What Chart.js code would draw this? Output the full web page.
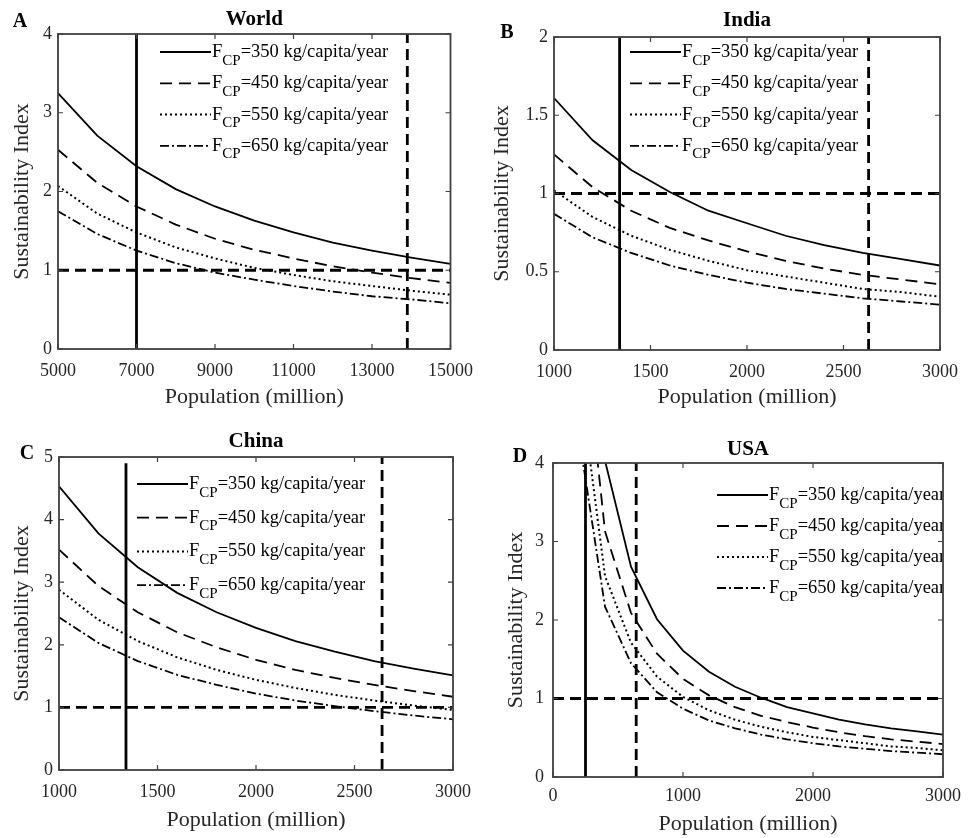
<!DOCTYPE html>
<html>
<head>
<meta charset="utf-8">
<script src="https://cdn.jsdelivr.net/npm/chart.js@4.4.0/dist/chart.umd.min.js"></script>
<style>
  body { margin: 0; background: #fff; width: 969px; height: 838px; position: relative; overflow: hidden; }
  .panel { position: absolute; }
  canvas { display: block; }
</style>
</head>
<body>
<div class="panel" style="left:0;top:0"><canvas id="cA" width="484" height="410"></canvas></div>
<div class="panel" style="left:484px;top:0"><canvas id="cB" width="485" height="410"></canvas></div>
<div class="panel" style="left:0;top:410px"><canvas id="cC" width="484" height="428"></canvas></div>
<div class="panel" style="left:484px;top:410px"><canvas id="cD" width="485" height="428"></canvas></div>
<script>
// values
const fcpValues = [350, 450, 550, 650];
const refLevel = 1;

const worldPop = [5000, 6000, 7000, 8000, 9000, 10000, 11000, 12000, 13000, 14000, 15000];
const worldF350 = [3.25, 2.71, 2.32, 2.03, 1.81, 1.63, 1.48, 1.35, 1.25, 1.16, 1.08];
const worldF450 = [2.53, 2.11, 1.81, 1.58, 1.40, 1.26, 1.15, 1.05, 0.97, 0.90, 0.84];
const worldF550 = [2.07, 1.72, 1.48, 1.29, 1.15, 1.03, 0.94, 0.86, 0.80, 0.74, 0.69];
const worldF650 = [1.75, 1.46, 1.25, 1.09, 0.97, 0.88, 0.80, 0.73, 0.67, 0.63, 0.58];
const worldRefX = [7000, 13900];
const worldXTicks = [5000, 7000, 9000, 11000, 13000, 15000];
const worldYTicks = [0, 1, 2, 3, 4];

const indiaPop = [1000, 1200, 1400, 1600, 1800, 2000, 2200, 2400, 2600, 2800, 3000];
const indiaF350 = [1.61, 1.34, 1.15, 1.01, 0.89, 0.81, 0.73, 0.67, 0.62, 0.58, 0.54];
const indiaF450 = [1.25, 1.04, 0.89, 0.78, 0.70, 0.63, 0.57, 0.52, 0.48, 0.45, 0.42];
const indiaF550 = [1.02, 0.85, 0.73, 0.64, 0.57, 0.51, 0.47, 0.43, 0.39, 0.37, 0.34];
const indiaF650 = [0.87, 0.72, 0.62, 0.54, 0.48, 0.43, 0.39, 0.36, 0.33, 0.31, 0.29];
const indiaRefX = [1340, 2630];
const indiaXTicks = [1000, 1500, 2000, 2500, 3000];
const indiaYTicks = [0, 0.5, 1, 1.5, 2];

const chinaPop = [1000, 1200, 1400, 1600, 1800, 2000, 2200, 2400, 2600, 2800, 3000];
const chinaF350 = [4.53, 3.78, 3.24, 2.83, 2.52, 2.27, 2.06, 1.89, 1.74, 1.62, 1.51];
const chinaF450 = [3.52, 2.94, 2.52, 2.20, 1.96, 1.76, 1.60, 1.47, 1.36, 1.26, 1.17];
const chinaF550 = [2.88, 2.40, 2.06, 1.80, 1.60, 1.44, 1.31, 1.20, 1.11, 1.03, 0.96];
const chinaF650 = [2.44, 2.03, 1.74, 1.52, 1.36, 1.22, 1.11, 1.02, 0.94, 0.87, 0.81];
const chinaRefX = [1340, 2640];
const chinaXTicks = [1000, 1500, 2000, 2500, 3000];
const chinaYTicks = [0, 1, 2, 3, 4, 5];

const usaPop = [200, 400, 600, 800, 1000, 1200, 1400, 1600, 1800, 2000, 2200, 2400, 2600, 2800, 3000];
const usaF350 = [8.05, 4.03, 2.68, 2.01, 1.61, 1.34, 1.15, 1.01, 0.89, 0.81, 0.73, 0.67, 0.62, 0.58, 0.54];
const usaF450 = [6.26, 3.13, 2.09, 1.57, 1.25, 1.04, 0.89, 0.78, 0.70, 0.63, 0.57, 0.52, 0.48, 0.45, 0.42];
const usaF550 = [5.12, 2.56, 1.71, 1.28, 1.02, 0.85, 0.73, 0.64, 0.57, 0.51, 0.47, 0.43, 0.39, 0.37, 0.34];
const usaF650 = [4.34, 2.17, 1.45, 1.08, 0.87, 0.72, 0.62, 0.54, 0.48, 0.43, 0.39, 0.36, 0.33, 0.31, 0.29];
const usaRefX = [250, 640];
const usaXTicks = [0, 1000, 2000, 3000];
const usaYTicks = [0, 1, 2, 3, 4];

const FONT = '"Liberation Serif", "Times New Roman", serif';
const TICK_COLOR = '#262626';
const curveDash = [[], [12, 7], [2, 3], [9, 3, 2, 3]];
const refDash = [11, 6];

// frame with inward ticks, legend with subscript, title and panel letter
const panelDecor = {
  id: 'panelDecor',
  afterDraw(chart, args, o) {
    const { ctx, chartArea: a, scales: { x, y } } = chart;

    ctx.save();
    ctx.beginPath();
    ctx.rect(a.left, a.top, a.right - a.left, a.bottom - a.top);
    ctx.clip();
    chart.data.datasets.slice(0, 4).forEach((ds, i) => {
      const ly = o.legY + i * o.legDy;
      ctx.strokeStyle = '#000';
      ctx.lineWidth = ds.borderWidth;
      ctx.setLineDash(ds.borderDash);
      ctx.beginPath();
      ctx.moveTo(o.legX, ly);
      ctx.lineTo(o.legX + 51, ly);
      ctx.stroke();
      ctx.setLineDash([]);
      const [head, rest] = ds.label.split('=');
      const [main, sub] = head.split('_');
      ctx.fillStyle = '#000';
      ctx.textAlign = 'left';
      ctx.textBaseline = 'alphabetic';
      let tx = o.legX + 52;
      ctx.font = '18.5px ' + FONT;
      ctx.fillText(main, tx, ly + 5);
      tx += ctx.measureText(main).width;
      ctx.font = '15px ' + FONT;
      ctx.fillText(sub, tx, ly + 12.5);
      tx += ctx.measureText(sub).width;
      ctx.font = '18.5px ' + FONT;
      ctx.fillText('=' + rest, tx, ly + 5);
    });
    ctx.restore();

    ctx.save();
    ctx.strokeStyle = '#404040';
    ctx.lineWidth = 1.2;
    ctx.beginPath();
    x.ticks.forEach(t => {
      const px = x.getPixelForValue(t.value);
      ctx.moveTo(px, a.bottom); ctx.lineTo(px, a.bottom - 5);
      ctx.moveTo(px, a.top); ctx.lineTo(px, a.top + 5);
    });
    y.ticks.forEach(t => {
      const py = y.getPixelForValue(t.value);
      ctx.moveTo(a.left, py); ctx.lineTo(a.left + 5, py);
      ctx.moveTo(a.right, py); ctx.lineTo(a.right - 5, py);
    });
    ctx.stroke();
    ctx.lineWidth = 1.8;
    ctx.strokeRect(a.left, a.top, a.right - a.left, a.bottom - a.top);

    ctx.fillStyle = '#000';
    ctx.textBaseline = 'middle';
    ctx.textAlign = 'center';
    ctx.font = 'bold 21px ' + FONT;
    ctx.fillText(o.title, (a.left + a.right) / 2, o.titleY);
    ctx.font = 'bold 20px ' + FONT;
    ctx.fillText(o.letter, o.letterX, o.letterY);
    ctx.restore();
  }
};

function curve(pop, vals, i) {
  return {
    label: `F_CP=${fcpValues[i]} kg/capita/year`,
    data: pop.map((p, k) => ({ x: p, y: vals[k] })),
    borderColor: '#000',
    borderWidth: i === 2 ? 2 : 1.8,
    borderDash: curveDash[i],
    pointRadius: 0,
    tension: 0
  };
}

function refLine(pts, dash) {
  return { label: '', data: pts, borderColor: '#000', borderWidth: 2.8, borderDash: dash, pointRadius: 0, tension: 0 };
}

function makePanel(id, p) {
  const canvas = document.getElementById(id);
  const [L, T, R, B] = p.area;
  const datasets = p.series.map((s, i) => curve(p.pop, s, i));
  datasets.push(refLine([{ x: p.xRange[0], y: refLevel }, { x: p.xRange[1], y: refLevel }], refDash));
  datasets.push(refLine([{ x: p.refX[0], y: p.yRange[0] }, { x: p.refX[0], y: p.solidTop }], []));
  datasets.push(refLine([{ x: p.refX[1], y: p.yRange[0] }, { x: p.refX[1], y: p.yRange[1] }], refDash));

  new Chart(canvas, {
    type: 'line',
    data: { datasets },
    options: {
      responsive: false,
      animation: false,
      layout: { padding: { left: 0, top: T, right: canvas.width - R, bottom: 0 } },
      plugins: {
        legend: { display: false },
        tooltip: { enabled: false },
        panelDecor: p.decor
      },
      scales: {
        x: {
          type: 'linear',
          min: p.xRange[0],
          max: p.xRange[1],
          afterBuildTicks: s => { s.ticks = p.xTicks.map(v => ({ value: v })); },
          afterFit: s => { s.height = canvas.height - B; },
          grid: { display: false, drawTicks: false },
          border: { display: false },
          ticks: { callback: v => String(v), font: { family: FONT, size: 18 }, color: TICK_COLOR, padding: p.xTickPad, maxRotation: 0, autoSkip: false },
          title: { display: true, text: 'Population (million)', font: { family: FONT, size: 22 }, color: TICK_COLOR, padding: { top: 0, bottom: p.xTitlePad } }
        },
        y: {
          type: 'linear',
          min: p.yRange[0],
          max: p.yRange[1],
          afterBuildTicks: s => { s.ticks = p.yTicks.map(v => ({ value: v })); },
          afterFit: s => { s.width = L; },
          grid: { display: false, drawTicks: false },
          border: { display: false },
          ticks: { callback: v => String(v), font: { family: FONT, size: 18 }, color: TICK_COLOR, padding: p.yTickPad, autoSkip: false },
          title: { display: true, text: 'Sustainability Index', font: { family: FONT, size: 22 }, color: TICK_COLOR, padding: { top: p.yTitlePad, bottom: 0 } }
        }
      }
    },
    plugins: [panelDecor]
  });
}

makePanel('cA', {
  pop: worldPop, series: [worldF350, worldF450, worldF550, worldF650],
  refX: worldRefX, solidTop: 4, xRange: [5000, 15000], yRange: [0, 4],
  xTicks: worldXTicks, yTicks: worldYTicks,
  area: [58, 34, 452, 349], xTickPad: 11, yTickPad: 6, xTitlePad: 0, yTitlePad: 9.5,
  decor: { title: 'World', titleY: 20, letter: 'A', letterX: 20, letterY: 22, legX: 160, legY: 52, legDy: 31.3 }
});
makePanel('cB', {
  pop: indiaPop, series: [indiaF350, indiaF450, indiaF550, indiaF650],
  refX: indiaRefX, solidTop: 2, xRange: [1000, 3000], yRange: [0, 2],
  xTicks: indiaXTicks, yTicks: indiaYTicks,
  area: [70, 37, 461, 350], xTickPad: 11, yTickPad: 6, xTitlePad: 0, yTitlePad: 5.3,
  decor: { title: 'India', titleY: 21, letter: 'B', letterX: 23, letterY: 33, legX: 146, legY: 52, legDy: 31.3 }
});
makePanel('cC', {
  pop: chinaPop, series: [chinaF350, chinaF450, chinaF550, chinaF650],
  refX: chinaRefX, solidTop: 4.9, xRange: [1000, 3000], yRange: [0, 5],
  xTicks: chinaXTicks, yTicks: chinaYTicks,
  area: [59, 47, 453, 360], xTickPad: 11.5, yTickPad: 6, xTitlePad: 4.5, yTitlePad: 9.3,
  decor: { title: 'China', titleY: 32, letter: 'C', letterX: 27, letterY: 44, legX: 137, legY: 74, legDy: 33.7 }
});
makePanel('cD', {
  pop: usaPop, series: [usaF350, usaF450, usaF550, usaF650],
  refX: usaRefX, solidTop: 4, xRange: [0, 3000], yRange: [0, 4],
  xTicks: usaXTicks, yTicks: usaYTicks,
  area: [69, 53, 460, 367], xTickPad: 8, yTickPad: 9, xTitlePad: 0.5, yTitlePad: 18.6,
  decor: { title: 'USA', titleY: 40, letter: 'D', letterX: 36, letterY: 47, legX: 233, legY: 85, legDy: 31 }
});
</script>
</body>
</html>
